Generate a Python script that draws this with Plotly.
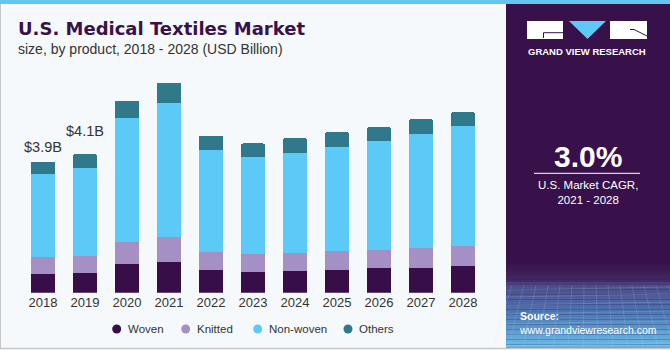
import plotly.graph_objects as go

# ---------------- data ----------------
years = ["2018", "2019", "2020", "2021", "2022", "2023", "2024", "2025", "2026", "2027", "2028"]
woven = [0.56, 0.60, 0.86, 0.92, 0.68, 0.62, 0.65, 0.68, 0.73, 0.74, 0.79]
knitted = [0.51, 0.50, 0.65, 0.74, 0.54, 0.54, 0.54, 0.57, 0.55, 0.60, 0.60]
non_woven = [2.47, 2.63, 3.70, 4.00, 3.03, 2.89, 2.98, 3.10, 3.23, 3.39, 3.57]
others = [0.36, 0.40, 0.51, 0.60, 0.43, 0.40, 0.43, 0.43, 0.42, 0.44, 0.42]
series_names = ["Woven", "Knitted", "Non-woven", "Others"]
series_values = [woven, knitted, non_woven, others]
label_years = ["2018", "2019"]
label_texts = ["$3.9B", "$4.1B"]

# ---------------- style ----------------
W, H = 670, 350
colors = ["#380E48", "#A590C5", "#5CCAF6", "#2F798B"]
bg = "#F5F9FC"
panel = "#38114A"
txt = "#333333"
FONT = "Liberation Sans"


def px(x):
    return x / W


def py(y):
    return 1 - y / H


fig = go.Figure()
for name, vals, col in zip(series_names, series_values, colors):
    fig.add_trace(go.Bar(
        x=years, y=vals, name=name, marker=dict(color=col, line=dict(width=0)),
        showlegend=False, hoverinfo="skip"))

totals = {y: sum(v[i] for v in series_values) for i, y in enumerate(years)}

shapes = []
annotations = []

# top stripe and borders
shapes.append(dict(type="rect", xref="paper", yref="paper", x0=0, x1=1, y0=py(4), y1=1,
                   fillcolor="#62C6EE", line=dict(width=0)))
shapes.append(dict(type="line", xref="paper", yref="paper", x0=px(0.5), x1=px(0.5), y0=py(348.5), y1=py(4),
                   line=dict(color="#C8C8C8", width=1)))
shapes.append(dict(type="line", xref="paper", yref="paper", x0=0, x1=1, y0=py(348.5), y1=py(348.5),
                   line=dict(color="#C8C8C8", width=1.5)))

# right panel
shapes.append(dict(type="rect", xref="paper", yref="paper", x0=px(506), x1=1, y0=py(347.5), y1=py(4),
                   fillcolor=panel, line=dict(width=0)))
# gradient at panel bottom
stops = [(262, (0x38, 0x11, 0x4A)), (282, (0x44, 0x2C, 0x66)), (284, (0x4C, 0x4A, 0x86)),
         (310, (0x4C, 0x72, 0xB0)), (347.5, (0x68, 0xC0, 0xEA))]
step = 2.5
yy = stops[0][0]
while yy < stops[-1][0]:
    y2 = min(yy + step, stops[-1][0])
    mid = (yy + y2) / 2
    for (a, ca), (b, cb) in zip(stops[:-1], stops[1:]):
        if a <= mid <= b:
            t = (mid - a) / (b - a)
            c = tuple(int(ca[k] + (cb[k] - ca[k]) * t) for k in range(3))
            break
    shapes.append(dict(type="rect", xref="paper", yref="paper", x0=px(506), x1=1, y0=py(y2), y1=py(yy),
                       fillcolor="rgb(%d,%d,%d)" % c, line=dict(width=0)))
    yy = y2
# faint grid texture
for gy in [290, 297, 305, 314, 324, 335, 346]:
    shapes.append(dict(type="line", xref="paper", yref="paper", x0=px(506), x1=1, y0=py(gy), y1=py(gy - 3),
                       line=dict(color="rgba(200,220,255,0.18)", width=1)))
for gx in range(512, 670, 12):
    shapes.append(dict(type="line", xref="paper", yref="paper", x0=px(gx), x1=px(gx + (gx - 588) * 0.25), y0=py(285), y1=py(347),
                       line=dict(color="rgba(200,220,255,0.15)", width=1)))

# logo
shapes.append(dict(type="rect", xref="paper", yref="paper", x0=px(527), x1=px(563), y0=py(39), y1=py(21),
                   fillcolor="white", line=dict(width=0)))
shapes.append(dict(type="path", xref="paper", yref="paper",
                   path="M %f,%f L %f,%f L %f,%f" % (px(543.5), py(38), px(543.5), py(32.7), px(563), py(32.7)),
                   line=dict(color=panel, width=1)))
shapes.append(dict(type="path", xref="paper", yref="paper",
                   path="M %f,%f L %f,%f L %f,%f Z" % (px(569), py(21), px(606), py(21), px(587.5), py(39)),
                   fillcolor="#5CCAF6", line=dict(width=0)))
shapes.append(dict(type="rect", xref="paper", yref="paper", x0=px(610), x1=px(647), y0=py(39), y1=py(21),
                   fillcolor="white", line=dict(width=0)))
shapes.append(dict(type="path", xref="paper", yref="paper",
                   path="M %f,%f L %f,%f L %f,%f" % (px(630), py(29.5), px(634), py(29.5), px(647), py(36)),
                   line=dict(color=panel, width=1)))
annotations.append(dict(text="<b>GRAND VIEW RESEARCH</b>", xref="paper", yref="paper", x=px(587), y=py(51.5),
                        xanchor="center", yanchor="middle", showarrow=False,
                        font=dict(family=FONT, size=9.5, color="white")))

# CAGR block
annotations.append(dict(text="<b>3.0%</b>", xref="paper", yref="paper", x=px(587.5), y=py(156),
                        xanchor="center", yanchor="middle", showarrow=False,
                        font=dict(family=FONT, size=30, color="white")))
shapes.append(dict(type="line", xref="paper", yref="paper", x0=px(534), x1=px(640), y0=py(173.3), y1=py(173.3),
                   line=dict(color="white", width=1)))
annotations.append(dict(text="U.S. Market CAGR,<br>2021 - 2028", xref="paper", yref="paper", x=px(587.5), y=py(193),
                        xanchor="center", yanchor="middle", showarrow=False, align="center",
                        font=dict(family=FONT, size=11.5, color="white")))
annotations.append(dict(text="<b>Source:</b><br>www.grandviewresearch.com", xref="paper", yref="paper",
                        x=px(516.5), y=py(322.5), xanchor="left", yanchor="middle", showarrow=False, align="left",
                        font=dict(family=FONT, size=10.5, color="white")))

# title
annotations.append(dict(text="<b>U.S. Medical Textiles Market</b>", xref="paper", yref="paper", x=px(16), y=py(29),
                        xanchor="left", yanchor="middle", showarrow=False,
                        font=dict(family="DejaVu Sans", size=18, color="#3A1248")))
annotations.append(dict(text="size, by product, 2018 - 2028 (USD Billion)", xref="paper", yref="paper",
                        x=px(16), y=py(49), xanchor="left", yanchor="middle", showarrow=False,
                        font=dict(family=FONT, size=14, color=txt)))

# value labels (category axis: position by category index)
for yr, t, ys in zip(label_years, label_texts, [15, 23]):
    annotations.append(dict(text=t, x=years.index(yr), y=totals[yr], xref="x", yref="y", yshift=ys,
                            xanchor="center", yanchor="middle", showarrow=False,
                            font=dict(family=FONT, size=14.5, color=txt)))

# manual legend
leg_x = [116.7, 185.7, 257.7, 348]
for name, col, lx in zip(series_names, colors, leg_x):
    shapes.append(dict(type="circle", xref="paper", yref="paper", x0=px(lx - 4.5), x1=px(lx + 4.5),
                       y0=py(333.5), y1=py(324.5), fillcolor=col, line=dict(width=0)))
    annotations.append(dict(text=name, xref="paper", yref="paper", x=px(lx + 9), y=py(329),
                            xanchor="left", yanchor="middle", showarrow=False,
                            font=dict(family=FONT, size=11.5, color=txt)))

fig.update_layout(
    width=W, height=H, barmode="stack", bargap=1 - 24 / 42, barcornerradius=2,
    margin=dict(l=0, r=0, t=0, b=0, pad=0),
    paper_bgcolor=bg, plot_bgcolor=bg,
    xaxis=dict(type="category", domain=[px(22), px(484)], range=[-0.5, 10.5], showgrid=False, zeroline=False,
               showline=False, ticks="", tickfont=dict(family=FONT, size=13, color=txt), fixedrange=True),
    yaxis=dict(domain=[py(292.7), py(57)], range=[0, 236 / 33.6], visible=False, fixedrange=True),
    shapes=shapes, annotations=annotations, showlegend=False,
)

fig.write_html("out.html")
